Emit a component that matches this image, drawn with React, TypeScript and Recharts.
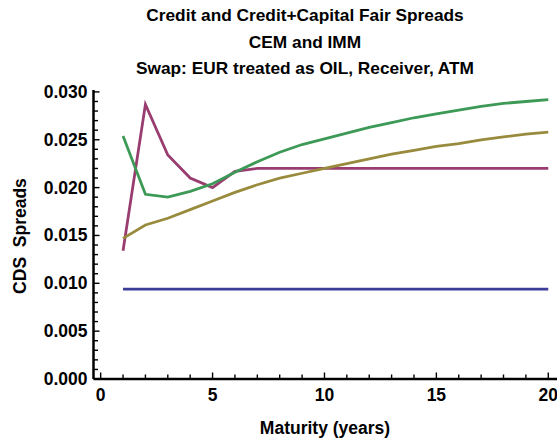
import React from "react";
import { LineChart, Line, XAxis, YAxis } from "recharts";

const maturities = [1, 2, 3, 4, 5, 6, 7, 8, 9, 10, 11, 12, 13, 14, 15, 16, 17, 18, 19, 20];

const creditSpread = [0.0094, 0.0094, 0.0094, 0.0094, 0.0094, 0.0094, 0.0094, 0.0094, 0.0094, 0.0094, 0.0094, 0.0094, 0.0094, 0.0094, 0.0094, 0.0094, 0.0094, 0.0094, 0.0094, 0.0094];
const cemSpread = [0.0134, 0.0287, 0.0234, 0.021, 0.02, 0.0217, 0.022, 0.022, 0.022, 0.022, 0.022, 0.022, 0.022, 0.022, 0.022, 0.022, 0.022, 0.022, 0.022, 0.022];
const olivSpread = [0.0147, 0.0161, 0.0168, 0.0177, 0.0186, 0.0195, 0.0203, 0.021, 0.0215, 0.022, 0.0225, 0.023, 0.0235, 0.0239, 0.0243, 0.0246, 0.025, 0.0253, 0.0256, 0.0258];
const immSpread = [0.0254, 0.0193, 0.019, 0.0196, 0.0204, 0.0216, 0.0227, 0.0237, 0.0245, 0.0251, 0.0257, 0.0263, 0.0268, 0.0273, 0.0277, 0.0281, 0.0285, 0.0288, 0.029, 0.0292];

const xTicks = [0, 1, 2, 3, 4, 5, 6, 7, 8, 9, 10, 11, 12, 13, 14, 15, 16, 17, 18, 19, 20];
const yTicks = [0, 0.001, 0.002, 0.003, 0.004, 0.005, 0.006, 0.007, 0.008, 0.009, 0.01, 0.011, 0.012, 0.013, 0.014, 0.015, 0.016, 0.017, 0.018, 0.019, 0.02, 0.021, 0.022, 0.023, 0.024, 0.025, 0.026, 0.027, 0.028, 0.029, 0.03];

const titleLines = ["Credit and Credit+Capital Fair Spreads", "CEM and IMM", "Swap: EUR treated as OIL, Receiver, ATM"];

const data = maturities.map((m, i) => ({
  x: m,
  credit: creditSpread[i],
  cem: cemSpread[i],
  oliv: olivSpread[i],
  imm: immSpread[i],
}));

const font = "'Liberation Sans', Arial, sans-serif";

const XTick = (props: any) => {
  const { x, y, payload } = props;
  const v = payload.value;
  const major = v % 5 === 0;
  return (
    <g>
      <line x1={x} y1={y} x2={x} y2={y - (major ? 6.5 : 4.5)} stroke="#000" strokeWidth={1.4} />
      {major && (
        <text x={x} y={y + 22} textAnchor="middle" fontFamily={font} fontWeight="bold" fontSize={17.5} fill="#000">
          {v}
        </text>
      )}
    </g>
  );
};

const YTick = (props: any) => {
  const { x, y, payload } = props;
  const v = payload.value;
  const major = Math.round(v * 1000) % 5 === 0;
  return (
    <g>
      <line x1={x} y1={y} x2={x + (major ? 6 : 4.5)} y2={y} stroke="#000" strokeWidth={1.4} />
      {major && (
        <text x={x - 6} y={y + 6} textAnchor="end" fontFamily={font} fontWeight="bold" fontSize={17.5} fill="#000">
          {v.toFixed(3)}
        </text>
      )}
    </g>
  );
};

export default function App() {
  return (
    <div style={{ position: "absolute", left: 0, top: 0, width: 557, height: 441, background: "#fff", fontFamily: font }}>
      {titleLines.map((t, i) => (
        <div
          key={t}
          style={{
            position: "absolute",
            left: 305 - 250,
            width: 500,
            top: 15 + i * 26.5 - 11,
            textAlign: "center",
            fontWeight: "bold",
            fontSize: 17.3,
            lineHeight: "22px",
            whiteSpace: "nowrap",
          }}
        >
          {t}
        </div>
      ))}
      <div
        style={{
          position: "absolute",
          left: 20 - 100,
          top: 236 - 11,
          width: 200,
          lineHeight: "22px",
          textAlign: "center",
          fontWeight: "bold",
          fontSize: 17.5,
          whiteSpace: "pre",
          transform: "rotate(-90deg)",
        }}
      >
        {"CDS  Spreads"}
      </div>
      <div
        style={{
          position: "absolute",
          left: 325 - 150,
          top: 428 - 11,
          width: 300,
          lineHeight: "22px",
          textAlign: "center",
          fontWeight: "bold",
          fontSize: 17.5,
          whiteSpace: "nowrap",
        }}
      >
        Maturity (years)
      </div>
      <div style={{ position: "absolute", left: 0, top: 0 }}>
        <LineChart width={557} height={441} data={data} margin={{ top: 90, right: 0, bottom: 0, left: 0 }}>
          <XAxis
            type="number"
            dataKey="x"
            domain={[-0.32, 20.39]}
            allowDataOverflow
            ticks={xTicks}
            interval={0}
            height={62}
            tickSize={0}
            tickMargin={0}
            tickLine={false}
            tick={<XTick />}
            axisLine={{ stroke: "#000", strokeWidth: 2.5 }}
          />
          <YAxis
            type="number"
            domain={[0, 0.0302]}
            allowDataOverflow
            ticks={yTicks}
            interval={0}
            width={93.5}
            tickSize={0}
            tickMargin={0}
            tickLine={false}
            tick={<YTick />}
            axisLine={{ stroke: "#000", strokeWidth: 2.5 }}
          />
          <Line type="linear" dataKey="credit" stroke="#3D3D99" strokeWidth={2.8} dot={false} isAnimationActive={false} />
          <Line type="linear" dataKey="cem" stroke="#993D71" strokeWidth={2.8} dot={false} isAnimationActive={false} />
          <Line type="linear" dataKey="oliv" stroke="#998B3D" strokeWidth={2.8} dot={false} isAnimationActive={false} />
          <Line type="linear" dataKey="imm" stroke="#3D9956" strokeWidth={2.8} dot={false} isAnimationActive={false} />
        </LineChart>
      </div>
    </div>
  );
}
